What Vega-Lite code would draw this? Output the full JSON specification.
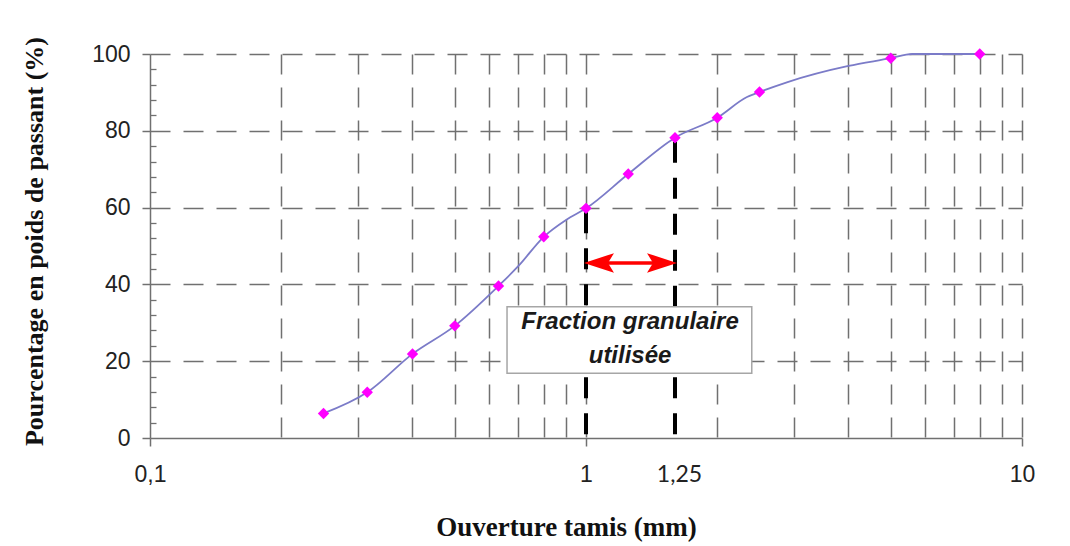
{
  "$schema": "https://vega.github.io/schema/vega-lite/v6.json",
  "width": 872,
  "height": 384,
  "autosize": {"type": "none"},
  "padding": {"left": 150, "top": 54, "right": 48, "bottom": 108},
  "background": "white",
  "config": {"view": {"stroke": null}},
  "datasets": {
    "pts": [
      {"x": 0.25, "y": 6.4},
      {"x": 0.315, "y": 11.9},
      {"x": 0.4, "y": 21.9},
      {"x": 0.5, "y": 29.2},
      {"x": 0.63, "y": 39.6},
      {"x": 0.8, "y": 52.4},
      {"x": 1.0, "y": 59.8},
      {"x": 1.25, "y": 68.75},
      {"x": 1.6, "y": 78.2},
      {"x": 2.0, "y": 83.4},
      {"x": 2.5, "y": 90.1},
      {"x": 5.0, "y": 98.9},
      {"x": 8.0, "y": 100}
    ],
    "curve": [
      {"x": 0.25, "y": 6.4},
      {"x": 0.315, "y": 11.9},
      {"x": 0.4, "y": 21.9},
      {"x": 0.5, "y": 29.2},
      {"x": 0.63, "y": 39.6},
      {"x": 0.7, "y": 44.8},
      {"x": 0.8, "y": 52.4},
      {"x": 0.9, "y": 56.8},
      {"x": 1.0, "y": 59.8},
      {"x": 1.25, "y": 68.75},
      {"x": 1.6, "y": 78.2},
      {"x": 2.0, "y": 83.4},
      {"x": 2.34, "y": 88.8},
      {"x": 2.5, "y": 90.1},
      {"x": 2.9, "y": 92.7},
      {"x": 4.0, "y": 96.9},
      {"x": 5.0, "y": 98.9},
      {"x": 5.6, "y": 100},
      {"x": 8.0, "y": 100}
    ],
    "cuts": [
      {"x": 1.0, "y": 59.8, "ye": 34.2},
      {"x": 1.0, "y": 16.85, "ye": 0},
      {"x": 1.6, "y": 78.2, "ye": 34.2},
      {"x": 1.6, "y": 16.85, "ye": 0}
    ],
    "box": [
      {"x": 0.659, "xe": 2.40, "y": 16.85, "ye": 34.2}
    ],
    "label": [
      {"x": 1.262, "y": 30.2, "text": "Fraction granulaire\nutilisée"}
    ],
    "shaft": [
      {"x": 1.05, "xe": 1.52, "y": 45.6}
    ],
    "heads": [
      {"x": 1.071, "y": 45.6, "dir": "left"},
      {"x": 1.494, "y": 45.6, "dir": "right"}
    ]
  },
  "layer": [
    {
      "data": {"name": "curve"},
      "mark": {"type": "line", "color": "#7b7bc8", "strokeWidth": 1.8, "interpolate": "monotone"},
      "encoding": {
        "x": {
          "field": "x", "type": "quantitative",
          "scale": {"type": "log", "domain": [0.1, 10], "nice": false},
          "axis": {
            "values": [0.1, 0.2, 0.3, 0.4, 0.5, 0.6, 0.7, 0.8, 0.9, 1, 1.6, 2, 3, 4, 5, 6, 7, 8, 9, 10],
            "labelExpr": "datum.value == 0.1 ? '0,1' : datum.value == 1 ? '1' : datum.value == 10 ? '10' : datum.value == 1.6 ? '1,25' : ''",
            "labelFont": {"condition": {"test": "datum.value == 1.6", "value": "Lato"}, "value": "Liberation Sans"},
            "labelOffset": {"condition": {"test": "datum.value == 1.6", "value": 4}, "value": 0},
            "labelFontSize": 23,
            "labelColor": "#222222",
            "labelPadding": 17,
            "labelFlush": false,
            "labelOverlap": false,
            "tickSize": 8,
            "tickColor": "#707070",
            "tickWidth": 1.5,
            "tickOpacity": {"condition": {"test": "datum.value == 0.1 || datum.value == 1 || datum.value == 10", "value": 1}, "value": 0},
            "grid": true,
            "gridColor": "#707070",
            "gridWidth": 1.5,
            "gridDash": [20, 13],
            "gridOpacity": {"condition": {"test": "datum.value == 0.1 || datum.value == 1.6", "value": 0}, "value": 1},
            "domainColor": "#707070",
            "domainWidth": 1.5,
            "title": "Ouverture tamis (mm)",
            "titleFont": "Liberation Serif",
            "titleFontSize": 27,
            "titleFontWeight": "bold",
            "titleColor": "#111111",
            "titleX": 416,
            "titleY": 97,
            "titleBaseline": "alphabetic",
            "titleAlign": "center"
          }
        },
        "y": {
          "field": "y", "type": "quantitative",
          "scale": {"domain": [0, 100], "nice": false},
          "axis": {
            "orient": "left",
            "values": [0, 20, 40, 60, 80, 100],
            "tickSize": 8,
            "tickColor": "#707070",
            "tickWidth": 1.5,
            "labelFont": "Liberation Sans",
            "labelFontSize": 23,
            "labelColor": "#222222",
            "labelPadding": 12,
            "grid": true,
            "gridColor": "#707070",
            "gridWidth": 1.5,
            "gridDash": [20, 13],
            "gridOpacity": {"condition": {"test": "datum.value == 0", "value": 0}, "value": 1},
            "domainColor": "#707070",
            "domainWidth": 1.5,
            "title": "Pourcentage en poids de passant (%)",
            "titleFont": "Liberation Serif",
            "titleFontSize": 26,
            "titleFontWeight": "bold",
            "titleColor": "#111111",
            "titleX": -108,
            "titleY": 187,
            "titleBaseline": "alphabetic",
            "titleAlign": "center",
            "titleAngle": 270
          }
        }
      }
    },
    {
      "data": {"name": "cuts"},
      "mark": {"type": "rule", "color": "#000000", "strokeWidth": 4, "strokeDash": [21, 15], "strokeDashOffset": -4},
      "encoding": {
        "x": {"field": "x", "type": "quantitative"},
        "y": {"field": "y", "type": "quantitative", "axis": null},
        "y2": {"field": "ye"}
      }
    },
    {
      "data": {"name": "pts"},
      "mark": {"type": "point", "shape": "diamond", "filled": true, "size": 130, "color": "#ff00ff", "opacity": 1},
      "encoding": {
        "x": {"field": "x", "type": "quantitative"},
        "y": {
          "field": "y", "type": "quantitative",
          "axis": {
            "orient": "left",
            "values": [4, 8, 12, 16, 24, 28, 32, 36, 44, 48, 52, 56, 64, 68, 72, 76, 84, 88, 92, 96],
            "tickSize": -6,
            "tickColor": "#707070",
            "tickWidth": 1.3,
            "labels": false,
            "domain": false,
            "grid": false,
            "title": null
          }
        }
      }
    },
    {
      "data": {"name": "shaft"},
      "mark": {"type": "rule", "color": "#ff0000", "strokeWidth": 3.5},
      "encoding": {
        "x": {"field": "x", "type": "quantitative"},
        "x2": {"field": "xe"},
        "y": {"field": "y", "type": "quantitative", "axis": null}
      }
    },
    {
      "data": {"name": "heads"},
      "mark": {"type": "point", "filled": true, "size": 900, "color": "#ff0000", "opacity": 1, "strokeWidth": 0},
      "encoding": {
        "x": {"field": "x", "type": "quantitative"},
        "y": {"field": "y", "type": "quantitative", "axis": null},
        "shape": {
          "field": "dir", "type": "nominal",
          "scale": {"domain": ["left", "right"], "range": ["M-1,0L1,-0.65L0.6,0L1,0.65Z", "M1,0L-1,-0.65L-0.6,0L-1,0.65Z"]},
          "legend": null
        }
      }
    },
    {
      "data": {"name": "box"},
      "mark": {"type": "rect", "fill": "#ffffff", "stroke": "#a6a6a6", "strokeWidth": 1.5, "opacity": 1, "fillOpacity": 1},
      "encoding": {
        "x": {"field": "x", "type": "quantitative"},
        "x2": {"field": "xe"},
        "y": {"field": "y", "type": "quantitative", "axis": null},
        "y2": {"field": "ye"}
      }
    },
    {
      "data": {"name": "label"},
      "mark": {"type": "text", "lineBreak": "\n", "font": "Liberation Sans", "fontSize": 24, "fontWeight": "bold", "fontStyle": "italic", "align": "center", "baseline": "middle", "lineHeight": 34, "color": "#1a1a1a"},
      "encoding": {
        "x": {"field": "x", "type": "quantitative"},
        "y": {"field": "y", "type": "quantitative", "axis": null},
        "text": {"field": "text"}
      }
    }
  ],
  "resolve": {"axis": {"y": "independent"}}
}
